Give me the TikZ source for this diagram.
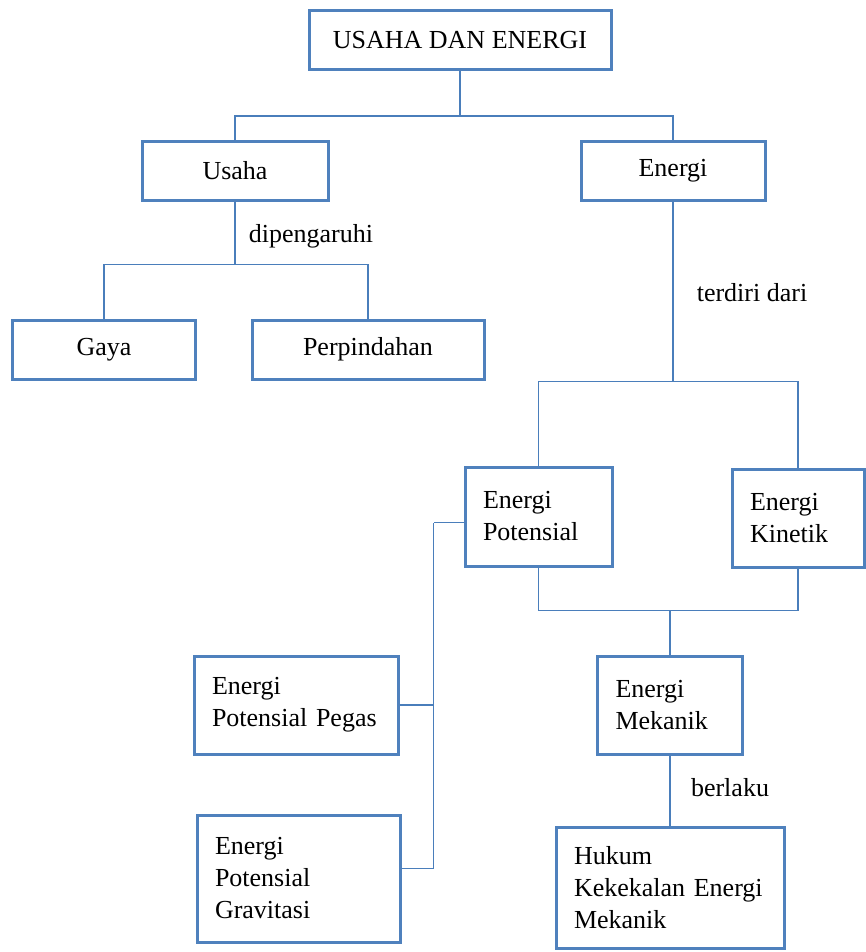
\documentclass[tikz,border=0pt]{standalone}
\usepackage{fontspec}
\setmainfont{Liberation Serif}
\definecolor{boxblue}{HTML}{4F81BD}
\definecolor{lineblue}{HTML}{4A7EBB}
\tikzset{
  box/.style={draw=boxblue, line width=3pt, fill=white, inner xsep=18pt, inner ysep=6pt},
  mbox/.style={box, align=left},
  conn/.style={draw=lineblue, line width=1.4pt},
}
\begin{document}
\begin{tikzpicture}[x=1pt,y=-1pt,font=\fontsize{26}{32}\selectfont]
    \useasboundingbox (0,0) rectangle (866,952);
    %% top level
    \node[box, minimum width=302pt, minimum height=59pt] (usahaenergi) at (460,40) {USAHA DAN ENERGI};
    \node[box, minimum width=186pt, minimum height=58pt] (usaha) at (235,171) {Usaha};
    \node[box, minimum width=184pt, minimum height=58pt] (energi) at (673,171) {Energi};
    \draw[conn] (usahaenergi.south) -- ++(0,45) coordinate (j1);
    \draw[conn] (usaha.north) |- (j1) -| (energi.north);
    %% usaha
    \node[box, minimum width=183pt, minimum height=59pt] (gaya) at (104,349.5) {Gaya};
    \node[box, minimum width=232pt, minimum height=59pt] (perpindahan) at (368,349.5) {Perpindahan};
    \draw[conn] (usaha.south) -- ++(0,63) coordinate (j2);
    \draw[conn] (gaya.north) |- (j2) -| (perpindahan.north);
    \node (dipengaruhi) at (311,236) {dipengaruhi};
    %% energi
    \node[mbox, text width=111pt, minimum height=99pt] (potensial) at (538.5,516.5) {Energi\\Potensial};
    \node[mbox, text width=96pt, minimum height=98pt] (kinetik) at (798,518) {Energi\\Kinetik};
    \draw[conn] (energi.south) -- ++(0,180) coordinate (j3);
    \draw[conn] (potensial.north) |- (j3) -| (kinetik.north);
    \node (terdiri) at (752,293) {terdiri dari};
    %% energi potensial
    \node[mbox, text width=168pt, minimum height=98pt] (pegas) at (296,705) {Energi\\Potensial Pegas};
    \node[mbox, text width=167pt, minimum height=127pt] (gravitasi) at (298.5,878.5) {Energi\\Potensial\\Gravitasi};
    \draw[conn] ([yshift=-6pt]potensial.west) -- ++(-30,0) coordinate (j5);
    \draw[conn] (pegas.east) -| (j5);
    \draw[conn] ([yshift=10pt]gravitasi.east) -| (j5);
    %% energi mekanik
    \node[mbox, text width=109pt, minimum height=98pt] (mekanik) at (670,705) {Energi\\Mekanik};
    \draw[conn] (potensial.south) -- ++(0,43) coordinate (j4) -| (kinetik.south);
    \draw[conn] (mekanik.north) -- (mekanik.north |- j4);
    \node[mbox, text width=192pt, minimum height=121pt] (hukum) at (670,887.5) {Hukum\\Kekekalan Energi\\Mekanik};
    \draw[conn] (mekanik.south) -- (hukum.north);
    \node (berlaku) at (730,788) {berlaku};
\end{tikzpicture}
\end{document}
